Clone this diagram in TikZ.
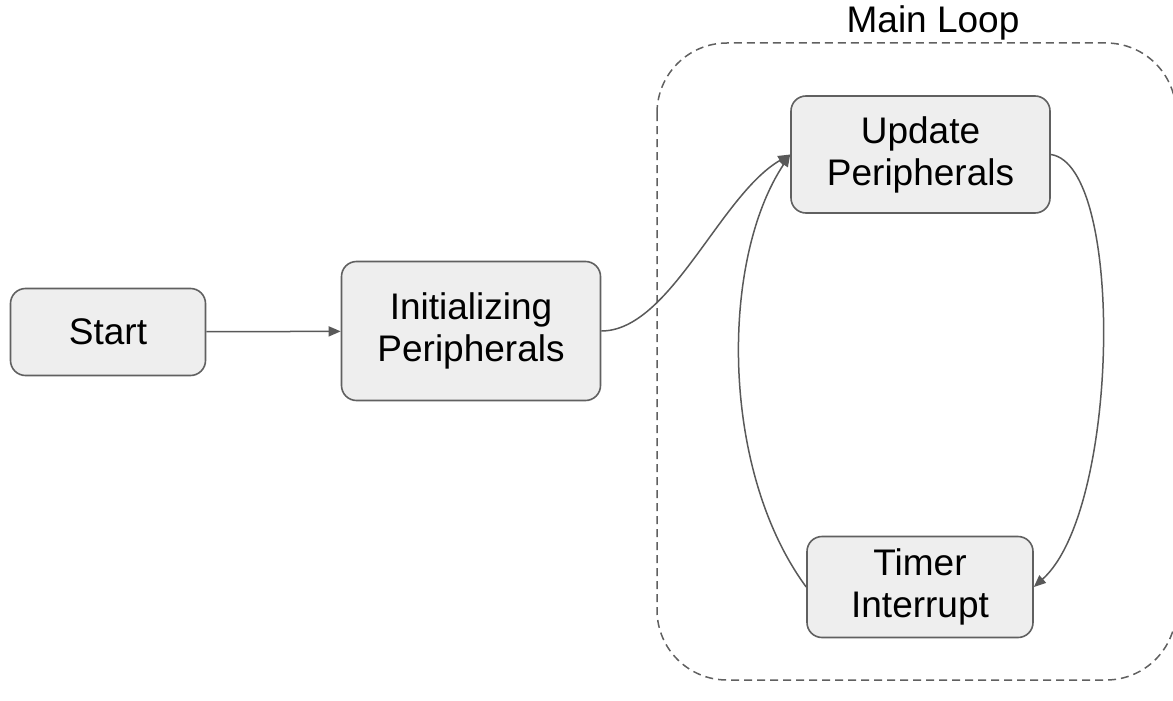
\documentclass[tikz,border=0pt]{standalone}
\usepackage{fontspec}
\setmainfont{Liberation Sans}
\usetikzlibrary{arrows.meta}

\definecolor{boxfill}{HTML}{EEEEEE}
\definecolor{boxline}{HTML}{606060}
\definecolor{linkline}{HTML}{595959}

\tikzset{
  box/.style={draw=boxline, fill=boxfill, line width=1.6pt, rounded corners=15pt,
    align=center, font=\fontsize{37}{42}\selectfont, inner sep=0pt},
  link/.style={draw=linkline, line width=1.5pt, -{Triangle[length=12pt,width=10pt]}},
  loopframe/.style={draw=boxline, line width=1.5pt, dash pattern=on 8pt off 5pt, rounded corners=70pt}
}

\begin{document}
\begin{tikzpicture}[x=1pt, y=-1pt]
	\useasboundingbox (0, 0) rectangle (1173, 701);

	% loop frame
	\draw[loopframe] (657, 43) rectangle (1176, 680);
	\node[anchor=base, font=\fontsize{37}{42}\selectfont] (looplabel) at (933, 33) {Main Loop};

	\node[box, minimum width=195pt, minimum height=87pt] (start) at (108, 332) {Start};
	\node[box, minimum width=259pt, minimum height=139pt] (init) at (471, 331) {Initializing\\Peripherals};
	\node[box, minimum width=259pt, minimum height=117pt] (update) at (920.5, 154.5) {Update\\Peripherals};
	\node[box, minimum width=226pt, minimum height=101pt] (timer) at (920, 587) {Timer\\Interrupt};

	\draw[link] (start) -- (init);
	\draw[link] (init.east) .. controls (670, 331) and (720, 195) .. (update.west);
	\draw[link] (update.east) .. controls (1125, 165) and (1120, 510) .. (timer.east);
	\draw[link] (timer.west) .. controls (720, 470) and (720, 260) .. (update.west);
\end{tikzpicture}
\end{document}
